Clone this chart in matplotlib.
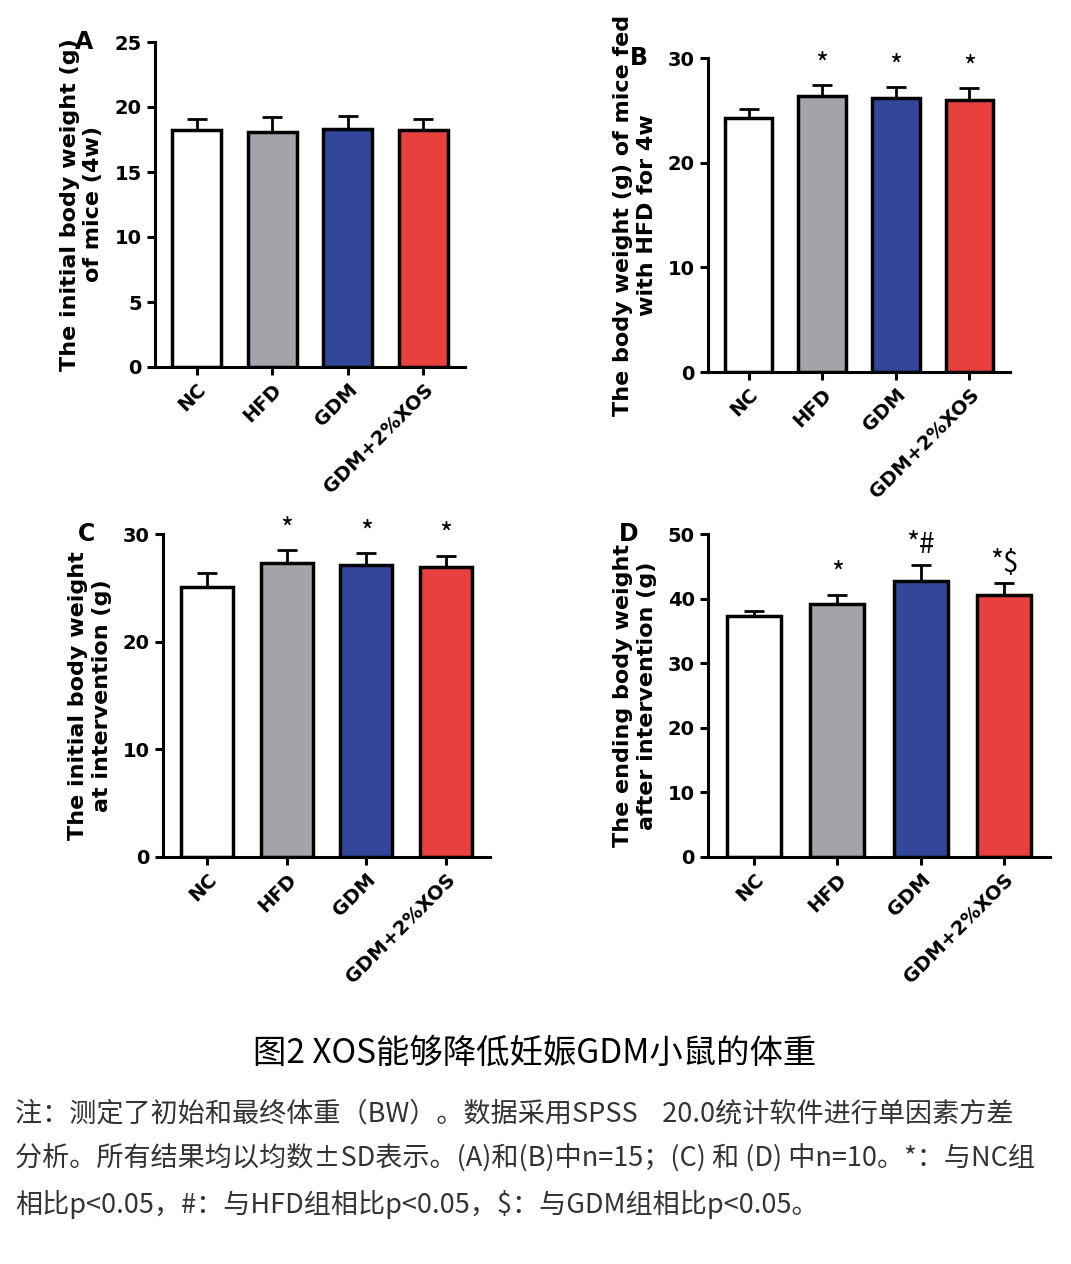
import matplotlib
matplotlib.use("Agg")
import matplotlib.pyplot as plt

plt.rcParams['font.family'] = ['Noto Sans CJK SC', 'DejaVu Sans']

groups = ["NC", "HFD", "GDM", "GDM+2%XOS"]
colors = ["#ffffff", "#a3a3aa", "#33479a", "#e8403f"]

a_vals = [18.2, 18.1, 18.3, 18.2]; a_err = [0.9, 1.1, 1.0, 0.9]
b_vals = [24.3, 26.4, 26.2, 26.0]; b_err = [0.8, 1.0, 1.0, 1.1]
c_vals = [25.1, 27.3, 27.1, 26.9]; c_err = [1.3, 1.2, 1.1, 1.1]
d_vals = [37.3, 39.1, 42.7, 40.5]; d_err = [0.8, 1.5, 2.5, 1.9]
b_sig = ["", "*", "*", "*"]
c_sig = ["", "*", "*", "*"]
d_sig = ["", "*", "*#", "*$"]

W, H = 1071, 1264
fig = plt.figure(figsize=(W/100, H/100), dpi=100)

def ax_px(l, t, r, b):
    return fig.add_axes([l/W, 1-b/H, (r-l)/W, (b-t)/H])

def panel(rect, vals, err, sig, ymax, step, ylabel, letter):
    ax = ax_px(*rect)
    x = range(len(vals))
    ax.bar(x, vals, width=0.65, color=colors, edgecolor="black", linewidth=2.5, zorder=2)
    ax.errorbar(x, vals, yerr=[[0]*4, err], fmt="none", ecolor="black",
                elinewidth=2, capsize=7, capthick=2, zorder=1)
    for i, s in enumerate(sig):
        if s:
            ax.text(i, vals[i]+err[i]+ymax*0.015, s, ha="center", va="bottom", fontsize=20)
    ax.set_ylim(0, ymax)
    ax.set_xlim(-0.55, 3.55)
    ax.set_yticks(range(0, ymax+1, step))
    ax.set_xticks(list(x))
    ax.set_xticklabels(groups, rotation=45, ha="right", rotation_mode="anchor",
                       fontsize=14, fontweight="bold", family="DejaVu Sans")
    for lab in ax.get_yticklabels():
        lab.set_fontsize(14); lab.set_fontweight("bold"); lab.set_family("DejaVu Sans")
    for s in ["top", "right"]:
        ax.spines[s].set_visible(False)
    for s in ["left", "bottom"]:
        ax.spines[s].set_linewidth(2.2)
    ax.tick_params(width=2.2, length=6)
    ax.set_ylabel(ylabel, fontsize=16, fontweight="bold", family="DejaVu Sans", labelpad=8)
    ax.text(-0.26, 1.0, letter, transform=ax.transAxes, fontsize=17, fontweight="bold",
            family="DejaVu Sans", va="center")
    return ax

panel((155, 42, 465, 367), a_vals, a_err, [""]*4, 25, 5,
      "The initial body weight (g)\nof mice (4w)", "A")
panel((708, 58, 1010, 372), b_vals, b_err, b_sig, 30, 10,
      "The body weight (g) of mice fed\nwith HFD for 4w", "B")
panel((163, 534, 490, 857), c_vals, c_err, c_sig, 30, 10,
      "The initial body weight\nat intervention (g)", "C")
panel((708, 534, 1050, 857), d_vals, d_err, d_sig, 50, 10,
      "The ending body weight\nafter intervention (g)", "D")

fig.text(535/W, 1-1053/H, "图2 XOS能够降低妊娠GDM小鼠的体重", ha="center", va="center", fontsize=24)
notes = ["注：测定了初始和最终体重（BW）。数据采用SPSS    20.0统计软件进行单因素方差",
         "分析。所有结果均以均数±SD表示。(A)和(B)中n=15；(C) 和 (D) 中n=10。*：与NC组",
         "相比p<0.05，#：与HFD组相比p<0.05，$：与GDM组相比p<0.05。"]
for i, t in enumerate(notes):
    fig.text(15/W, 1-(1114+45*i)/H, t, ha="left", va="center", fontsize=19.5, color="#333333")

fig.savefig("out.png", dpi=100)
